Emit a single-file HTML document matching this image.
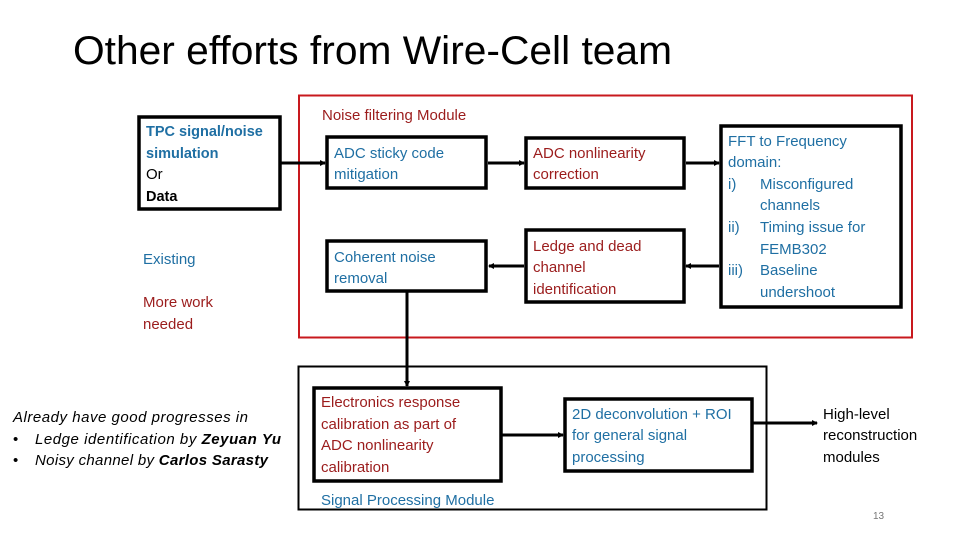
<!DOCTYPE html>
<html><head><meta charset="utf-8"><style>
html,body{margin:0;padding:0;background:#fff;}
svg{display:block;font-family:"Liberation Sans",sans-serif;}
.b{fill:#1F6FA3}.r{fill:#9B1C1C}.k{fill:#000}
</style></head><body>
<svg width="960" height="540" viewBox="0 0 960 540" xmlns="http://www.w3.org/2000/svg">
<defs><marker id="a" markerWidth="6" markerHeight="6" refX="5" refY="3" orient="auto" markerUnits="userSpaceOnUse"><path d="M0,0 L6,3 L0,6 z" fill="#000"/></marker></defs>
<text x="73" y="64" font-size="40" textLength="599" lengthAdjust="spacingAndGlyphs" fill="#000">Other efforts from Wire-Cell team</text>

<rect x="299" y="95.5" width="613" height="242" fill="none" stroke="#C8191E" stroke-width="2"/>
<text x="322" y="120" font-size="15" class="r">Noise filtering Module</text>

<rect x="298.5" y="366.5" width="468" height="143" fill="none" stroke="#000" stroke-width="2"/>
<text x="321" y="505" font-size="15" class="b">Signal Processing Module</text>

<g fill="none" stroke="#000" stroke-width="3.5">
<rect x="139" y="117" width="141" height="92"/>
<rect x="327" y="137" width="159" height="51"/>
<rect x="327" y="241" width="159" height="50"/>
<rect x="526" y="138" width="158" height="50"/>
<rect x="526" y="230" width="158" height="72"/>
<rect x="721" y="126" width="180" height="181"/>
<rect x="314" y="388" width="187" height="93"/>
<rect x="565" y="399" width="187" height="72"/>
</g>
<g stroke="#000" stroke-width="3" marker-end="url(#a)">
<line x1="281" y1="163" x2="325" y2="163"/>
<line x1="488" y1="163" x2="524" y2="163"/>
<line x1="686" y1="163" x2="719" y2="163"/>
<line x1="719" y1="266" x2="686" y2="266"/>
<line x1="524" y1="266" x2="489" y2="266"/>
<line x1="407" y1="292" x2="407" y2="386"/>
<line x1="502" y1="435" x2="563" y2="435"/>
<line x1="753" y1="423" x2="817" y2="423"/>
</g>

<g font-size="15">
<text x="146" y="136" class="b" font-weight="bold" font-size="14.5">TPC signal/noise</text>
<text x="146" y="158" class="b" font-weight="bold" font-size="14.5">simulation</text>
<text x="146" y="179" class="k">Or</text>
<text x="146" y="201" class="k" font-weight="bold" font-size="14.5">Data</text>
<text x="143" y="264" class="b">Existing</text>
<text x="143" y="307" class="r">More work</text>
<text x="143" y="329" class="r">needed</text>

<text x="334" y="158" class="b">ADC sticky code</text>
<text x="334" y="179" class="b">mitigation</text>
<text x="334" y="262" class="b">Coherent noise</text>
<text x="334" y="283" class="b">removal</text>

<text x="533" y="158" class="r">ADC nonlinearity</text>
<text x="533" y="179" class="r">correction</text>
<text x="533" y="251" class="r">Ledge and dead</text>
<text x="533" y="272" class="r">channel</text>
<text x="533" y="294" class="r">identification</text>

<text x="728" y="146" class="b">FFT to Frequency</text>
<text x="728" y="167" class="b">domain:</text>
<text x="728" y="189" class="b">i)</text><text x="760" y="189" class="b">Misconfigured</text>
<text x="760" y="210" class="b">channels</text>
<text x="728" y="232" class="b">ii)</text><text x="760" y="232" class="b">Timing issue for</text>
<text x="760" y="254" class="b">FEMB302</text>
<text x="728" y="275" class="b">iii)</text><text x="760" y="275" class="b">Baseline</text>
<text x="760" y="297" class="b">undershoot</text>

<text x="321" y="407" class="r">Electronics response</text>
<text x="321" y="429" class="r">calibration as part of</text>
<text x="321" y="450" class="r">ADC nonlinearity</text>
<text x="321" y="472" class="r">calibration</text>

<text x="572" y="419" class="b">2D deconvolution + ROI</text>
<text x="572" y="440" class="b">for general signal</text>
<text x="572" y="462" class="b">processing</text>

<text x="823" y="419" class="k">High-level</text>
<text x="823" y="440" class="k">reconstruction</text>
<text x="823" y="462" class="k">modules</text>

<text x="13" y="422" class="k" font-style="italic" textLength="235" lengthAdjust="spacing">Already have good progresses in</text>
<text x="13" y="444" class="k">•</text>
<text x="35" y="444" class="k" font-style="italic" textLength="246" lengthAdjust="spacing">Ledge identification by <tspan font-weight="bold">Zeyuan Yu</tspan></text>
<text x="13" y="465" class="k">•</text>
<text x="35" y="465" class="k" font-style="italic" textLength="233" lengthAdjust="spacing">Noisy channel by <tspan font-weight="bold">Carlos Sarasty</tspan></text>
</g>
<text x="873" y="519" font-size="10" fill="#777">13</text>
</svg>
</body></html>
